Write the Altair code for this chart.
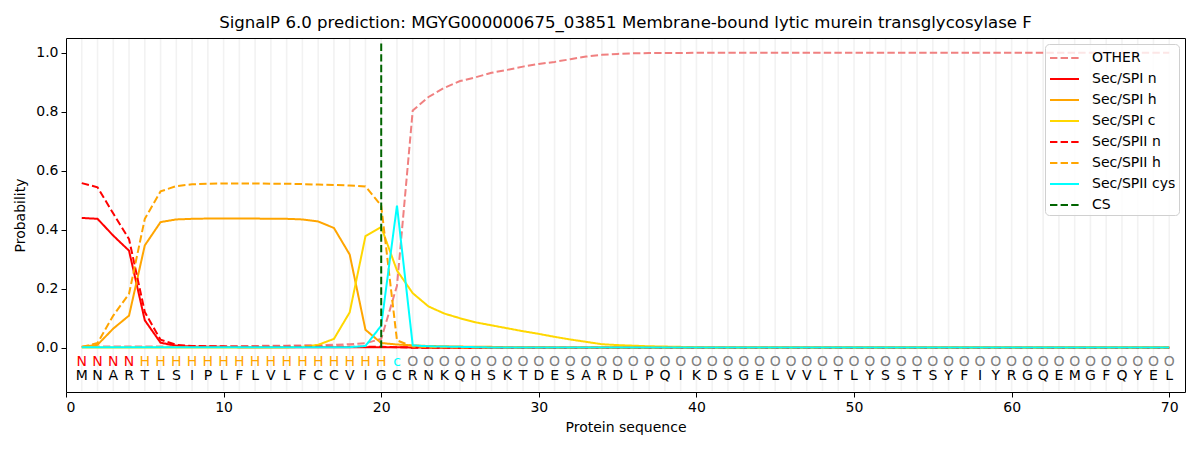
import altair as alt
import pandas as pd

positions = list(range(1, 71))
residues = list("MNARTLSIPLFLVLFCCVIGCRNKQHSKTDESARDLPQIKDSGELVVLTLYSSTSYFIYRGQEMGFQYEL")
labels = ["N"] * 4 + ["H"] * 16 + ["c"] + ["O"] * 49

other = [0.003, 0.004, 0.004, 0.004, 0.004, 0.004, 0.005, 0.005, 0.005, 0.006,
         0.006, 0.006, 0.007, 0.007, 0.008, 0.009, 0.010, 0.012, 0.015, 0.030,
         0.210, 0.804, 0.850, 0.881, 0.904, 0.917, 0.932, 0.942, 0.953, 0.962,
         0.969, 0.978, 0.987, 0.993, 0.996, 0.998, 0.999, 0.999, 0.999, 1.0] + [1.0] * 30
spi_n = [0.440, 0.437, 0.380, 0.329, 0.093, 0.017, 0.007, 0.004, 0.003, 0.003,
         0.002, 0.002, 0.002, 0.002, 0.002, 0.002, 0.002, 0.002, 0.002, 0.002,
         0.002, 0.001] + [0.0] * 48
spi_h = [0.003, 0.010, 0.065, 0.109, 0.347, 0.426, 0.435, 0.437, 0.438, 0.438,
         0.438, 0.438, 0.437, 0.437, 0.435, 0.428, 0.406, 0.316, 0.061, 0.016,
         0.011, 0.008, 0.006, 0.005, 0.004, 0.003, 0.003, 0.002, 0.002, 0.002] + [0.001] * 40
spi_c = [0.001] * 14 + [0.003, 0.010, 0.030, 0.120, 0.378, 0.409, 0.262, 0.185,
         0.140, 0.116, 0.100, 0.086, 0.076, 0.066, 0.056, 0.047, 0.037, 0.028,
         0.020, 0.012, 0.009, 0.007, 0.005, 0.004, 0.003, 0.002] + [0.001] * 30
spii_n = [0.558, 0.544, 0.455, 0.368, 0.121, 0.027, 0.010, 0.006, 0.005, 0.004,
          0.003, 0.003, 0.003, 0.003, 0.003, 0.003, 0.003, 0.003, 0.003, 0.003,
          0.002] + [0.0] * 49
spii_h = [0.003, 0.016, 0.109, 0.183, 0.437, 0.530, 0.548, 0.554, 0.556, 0.557,
          0.557, 0.557, 0.556, 0.556, 0.555, 0.553, 0.552, 0.550, 0.547, 0.482,
          0.025, 0.004, 0.002, 0.002] + [0.001] * 46
spii_cys = [0.002] * 18 + [0.006, 0.075, 0.482, 0.008, 0.005, 0.004, 0.003, 0.002] + [0.001] * 44
cs_position = 20

series_names = ["OTHER", "Sec/SPI n", "Sec/SPI h", "Sec/SPI c",
                "Sec/SPII n", "Sec/SPII h", "Sec/SPII cys", "CS"]
series_colors = ["#f08080", "#ff0000", "#ffa500", "#ffd700",
                 "#ff0000", "#ffa500", "#00ffff", "#006400"]
dash = [7.4, 3.2]
solid = [1, 0]
series_dashes = [dash, solid, solid, solid, dash, dash, solid, dash]

label_color_map = {"N": "#ff0000", "H": "#ffa500", "c": "#00ffff", "O": "#808080"}

rows = []
for name, vals in zip(series_names[:7], [other, spi_n, spi_h, spi_c, spii_n, spii_h, spii_cys]):
    for p, v in zip(positions, vals):
        rows.append({"pos": p, "prob": v, "series": name})
lines_df = pd.DataFrame(rows)

seq_df = pd.DataFrame({
    "pos": positions,
    "res": residues,
    "lab": labels,
    "lab_color": [label_color_map[l] for l in labels],
    "lab_y": [-0.049] * 70,
    "res_y": [-0.096] * 70,
})
cs_df = pd.DataFrame({"pos": [cs_position], "y0": [0.0], "y1": [1.04], "series": ["CS"]})

W, H = 1119, 354
xscale = alt.Scale(domain=[0, 71], nice=False, zero=False)
yscale = alt.Scale(domain=[-0.15, 1.05], nice=False, zero=False)

color_enc = alt.Color("series:N", scale=alt.Scale(domain=series_names, range=series_colors),
                      legend=alt.Legend(title=None, orient="top-right", offset=6,
                                        symbolType="M-0.9,0L2.0,0", symbolStrokeWidth=2,
                                        symbolSize=400, labelFontSize=14, rowPadding=3,
                                        padding=3, labelOffset=22,
                                        fillColor="rgba(255,255,255,0.8)",
                                        strokeColor="#d0d0d0", cornerRadius=4,
                                        labelFont="DejaVu Sans", labelColor="black"))
dash_enc = alt.StrokeDash("series:N", scale=alt.Scale(domain=series_names, range=series_dashes),
                          legend=alt.Legend(title=None, orient="top-right"))

x_axis = alt.Axis(values=list(range(0, 71, 10)), title="Protein sequence", grid=False,
                  domain=False, tickColor="black", tickSize=5, labelPadding=3, titlePadding=6)
y_axis = alt.Axis(values=[0, 0.2, 0.4, 0.6, 0.8, 1.0], format=".1f", title="Probability",
                  grid=False, domain=False, tickColor="black", tickSize=5, labelPadding=3,
                  titlePadding=8)

grid = alt.Chart(pd.DataFrame({"pos": positions})).mark_rule(
    color="#f2f2f2", strokeWidth=1.6
).encode(x=alt.X("pos:Q", scale=xscale, axis=x_axis), y=alt.value(1), y2=alt.value(H - 1))

lines = alt.Chart(lines_df).mark_line(strokeWidth=2).encode(
    x=alt.X("pos:Q", scale=xscale, axis=x_axis),
    y=alt.Y("prob:Q", scale=yscale, axis=y_axis),
    color=color_enc,
    strokeDash=dash_enc,
    detail="series:N",
)

cs_rule = alt.Chart(cs_df).mark_rule(strokeWidth=2).encode(
    x=alt.X("pos:Q", scale=xscale),
    y=alt.Y("y0:Q", scale=yscale),
    y2="y1:Q",
    color=color_enc,
    strokeDash=dash_enc,
)

lab_text = alt.Chart(seq_df).mark_text(fontSize=14, font="DejaVu Sans", baseline="middle").encode(
    x=alt.X("pos:Q", scale=xscale),
    y=alt.Y("lab_y:Q", scale=yscale),
    text="lab:N",
    color=alt.Color("lab_color:N", scale=None),
)
res_text = alt.Chart(seq_df).mark_text(fontSize=14, font="DejaVu Sans", baseline="middle",
                                        color="black").encode(
    x=alt.X("pos:Q", scale=xscale),
    y=alt.Y("res_y:Q", scale=yscale),
    text="res:N",
)

chart = alt.layer(grid, lines, cs_rule, lab_text, res_text).properties(
    width=W, height=H,
    background="white",
    title=alt.Title("SignalP 6.0 prediction: MGYG000000675_03851 Membrane-bound lytic murein transglycosylase F",
                    fontSize=16.6, font="DejaVu Sans", fontWeight="normal", anchor="middle",
                    offset=6, color="black"),
    autosize=alt.AutoSizeParams(type="none"),
    padding={"left": 58, "top": 30, "right": 7, "bottom": 50},
).configure_view(stroke="black", strokeWidth=1).configure_axis(
    labelFont="DejaVu Sans", titleFont="DejaVu Sans", labelFontSize=14, titleFontSize=14,
    labelColor="black", titleColor="black", titleFontWeight="normal", tickWidth=1
)

chart.save("out.html", embed_options={"renderer": "svg", "actions": False})
